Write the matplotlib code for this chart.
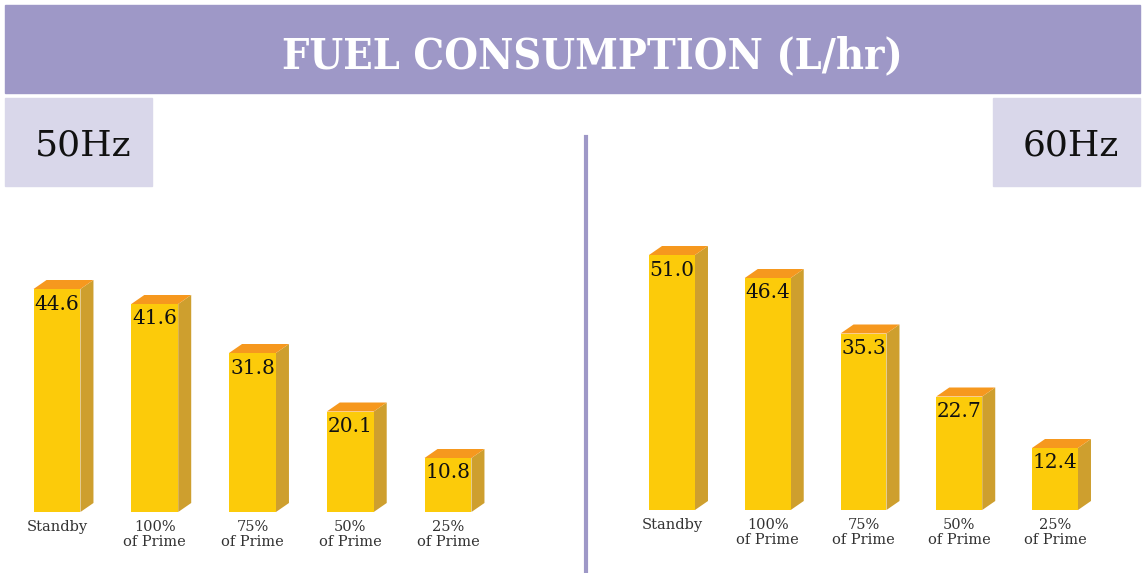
import matplotlib
matplotlib.use("Agg")
import matplotlib.pyplot as plt
from matplotlib.patches import Rectangle, Polygon

W, H = 1144, 573

categories = ["Standby", "100%\nof Prime", "75%\nof Prime", "50%\nof Prime", "25%\nof Prime"]
fuel_50hz = [44.6, 41.6, 31.8, 20.1, 10.8]
fuel_60hz = [51.0, 46.4, 35.3, 22.7, 12.4]

FRONT = "#FCCB0A"
SIDE = "#CE9F2E"
TOP = "#F6981E"
PURPLE = "#9E98C7"
LIGHT = "#D9D7EA"


def fx(px):
    return px / W


def fy(py):
    # py measured from the top of the image
    return 1 - py / H


def bars3d(ax, values, labels, px_per_x, px_per_y, width=0.48, dx_px=13, dy_px=9):
    dx = dx_px / px_per_x
    dy = dy_px / px_per_y
    xs = range(len(values))
    ax.bar(xs, values, width=width, color=FRONT, zorder=3)
    for x, v in zip(xs, values):
        r = x + width / 2
        l = x - width / 2
        ax.add_patch(Polygon([(r, 0), (r + dx, dy), (r + dx, v + dy), (r, v)],
                             closed=True, color=SIDE, lw=0, zorder=2))
        ax.add_patch(Polygon([(l, v), (r, v), (r + dx, v + dy), (l + dx, v + dy)],
                             closed=True, color=TOP, lw=0, zorder=2))
        ax.text(x, v - 1.1, f"{v:.1f}", ha="center", va="top",
                fontsize=14.5, family="DejaVu Serif", color="#111111", zorder=4)
    for x, lab in zip(xs, labels):
        ax.text(x, -1.6, lab, ha="center", va="top", fontsize=10.5,
                family="DejaVu Serif", color="#333333", linespacing=1.05)
    ax.set_axis_off()


fig = plt.figure(figsize=(W / 100, H / 100), dpi=100)

# header banner
fig.patches.append(Rectangle((fx(5), fy(93)), fx(1135), 88 / H, transform=fig.transFigure,
                             color=PURPLE, zorder=0))
fig.text(fx(592), fy(56), "FUEL CONSUMPTION (L/hr)", ha="center", va="center",
         fontsize=31, fontweight="bold", family="DejaVu Serif", fontstretch="condensed",
         color="white")

# frequency boxes
for x0, label in [(5, "50Hz"), (993, "60Hz")]:
    fig.patches.append(Rectangle((fx(x0), fy(186)), fx(147), 88 / H,
                                 transform=fig.transFigure, color=LIGHT, zorder=0))
    fig.text(fx(x0 + 78), fy(145), label, ha="center", va="center", fontsize=26,
             family="DejaVu Serif", color="#111111")

# divider
fig.lines.append(plt.Line2D([fx(586), fx(586)], [fy(137), 0], transform=fig.transFigure,
                            color=PURPLE, lw=3))

# left panel: centers at 57 + i*97.75 px, baseline at 512 px, 5 px per unit
step_l = 97.75
ax1 = fig.add_axes([0, fy(512), fx(580), 300 / H])
ax1.set_xlim((0 - 57) / step_l, (580 - 57) / step_l)
ax1.set_ylim(0, 60)
bars3d(ax1, fuel_50hz, categories, step_l, 5.0)

# right panel: centers at 672 + i*95.75 px, baseline at 510 px
step_r = 95.75
ax2 = fig.add_axes([fx(600), fy(510), fx(544), 300 / H])
ax2.set_xlim((600 - 672) / step_r, (1144 - 672) / step_r)
ax2.set_ylim(0, 60)
bars3d(ax2, fuel_60hz, categories, step_r, 5.0)

fig.savefig("out.png", dpi=100)
